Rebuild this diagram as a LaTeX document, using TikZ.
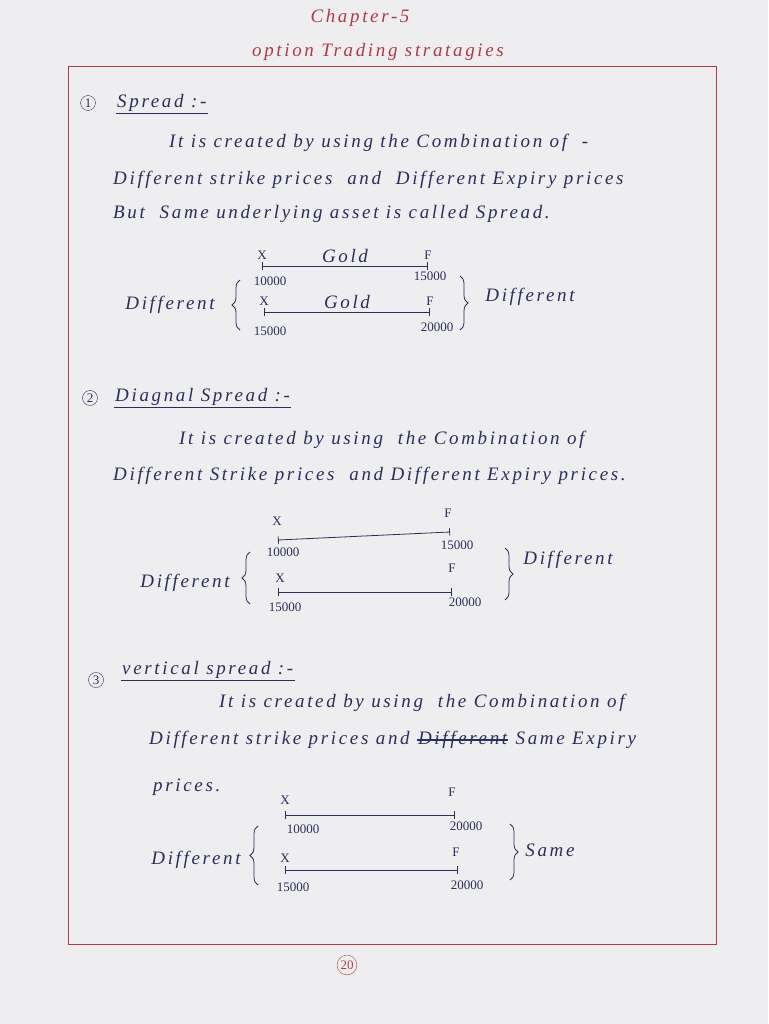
\documentclass[tikz,border=0pt]{standalone}
\usepackage{fontspec}
\setmainfont{Liberation Serif}
\newfontfamily\handfont[LetterSpace=14]{Liberation Serif}
\usetikzlibrary{positioning,decorations.pathreplacing}
\definecolor{ink}{HTML}{2B2D5C}
\definecolor{redink}{HTML}{B03A48}
\definecolor{paper}{HTML}{EEEEF0}
\begin{document}
\begin{tikzpicture}[x=1pt,y=-1pt]

	\tikzstyle{txt}=[ink, font=\handfont\fontsize{19}{22}\selectfont\itshape, inner sep=1pt]
	\tikzstyle{num}=[ink, font=\fontsize{13}{15}\selectfont, inner sep=1pt]
	\tikzstyle{head}=[ink, font=\handfont\fontsize{19}{22}\selectfont\itshape, inner sep=1pt]
	\tikzstyle{circ}=[ink, circle, draw, inner sep=1.5pt, font=\fontsize{13}{14}\selectfont]
	\tikzstyle{bar}=[ink, line width=0.8pt, |-|]
	\tikzstyle{brc}=[ink, line width=0.8pt, decorate, decoration={brace, amplitude=8pt}]

	\fill[paper] (0,0) rectangle (768,1024);
	\useasboundingbox (0,0) rectangle (768,1024);

	% TITLE
	\node[txt, redink] (chap) at (360,18) {Chapter-5};
	\node[txt, redink] (title) at (378,52) {option Trading stratagies};
	\draw[redink, line width=1pt] (68,67) rectangle (716,944);
	\node[circ, redink] (page) at (347,965) {20};

	% SECTION 1
	\node[circ] (n_1) at (88,103) {1};
	\node[head, anchor=west] (s_1) at (116,103) {Spread :-};
	\draw[ink] (s_1.south west) -- (s_1.south east);
	\node[txt, anchor=west] (t_1_1) at (168,143) {It is created by using the Combination of \ -};
	\node[txt, anchor=west] (t_1_2) at (112,180) {Different strike prices \ and \ Different Expiry prices};
	\node[txt, anchor=west] (t_1_3) at (112,214) {But \ Same underlying asset is called Spread.};

	\coordinate (a_1_1) at (262,266); \coordinate (b_1_1) at (428,266);
	\coordinate (a_1_2) at (264,312); \coordinate (b_1_2) at (430,312);
	\draw[bar] (a_1_1) -- node[txt, above=2pt] (g_1) {Gold} (b_1_1);
	\draw[bar] (a_1_2) -- node[txt, above=2pt] (g_2) {Gold} (b_1_2);
	\node[num, above=5pt of a_1_1] (x_1_1) {X};
	\node[num, above=5pt of b_1_1] (f_1_1) {F};
	\node[num, above=5pt of a_1_2] (x_1_2) {X};
	\node[num, above=5pt of b_1_2] (f_1_2) {F};
	\node[num] (p_1_1) at (270,281) {10000};
	\node[num] (p_1_2) at (430,276) {15000};
	\node[num] (p_1_3) at (270,331) {15000};
	\node[num] (p_1_4) at (437,327) {20000};
	\node[txt] (d_1_l) at (170,305) {Different};
	\node[txt] (d_1_r) at (530,297) {Different};
	\draw[brc] (240,330) -- (240,280);
	\draw[brc] (460,276) -- (460,330);

	% SECTION 2
	\node[circ] (n_2) at (90,398) {2};
	\node[head, anchor=west] (s_2) at (114,397) {Diagnal Spread :-};
	\draw[ink] (s_2.south west) -- (s_2.south east);
	\node[txt, anchor=west] (t_2_1) at (178,440) {It is created by using \ the Combination of};
	\node[txt, anchor=west] (t_2_2) at (112,476) {Different Strike prices \ and Different Expiry prices.};

	\coordinate (a_2_1) at (278,540); \coordinate (b_2_1) at (450,532);
	\coordinate (a_2_2) at (278,592); \coordinate (b_2_2) at (452,592);
	\draw[bar] (a_2_1) -- (b_2_1);
	\draw[bar] (a_2_2) -- (b_2_2);
	\node[num] (x_2_1) at (277,521) {X};
	\node[num] (f_2_1) at (448,513) {F};
	\node[num] (x_2_2) at (280,578) {X};
	\node[num] (f_2_2) at (452,568) {F};
	\node[num] (p_2_1) at (283,552) {10000};
	\node[num] (p_2_2) at (457,545) {15000};
	\node[num] (p_2_3) at (285,607) {15000};
	\node[num] (p_2_4) at (465,602) {20000};
	\node[txt] (d_2_l) at (185,583) {Different};
	\node[txt] (d_2_r) at (568,560) {Different};
	\draw[brc] (250,604) -- (250,552);
	\draw[brc] (505,548) -- (505,600);

	% SECTION 3
	\node[circ] (n_3) at (96,680) {3};
	\node[head, anchor=west] (s_3) at (121,670) {vertical spread :-};
	\draw[ink] (s_3.south west) -- (s_3.south east);
	\node[txt, anchor=west] (t_3_1) at (218,703) {It is created by using \ the Combination of};
	\node[txt, anchor=west] (t_3_2) at (148,740) {Different strike prices and};
	\node[txt, right=6pt of t_3_2] (strk) {Different};
	\draw[ink, line width=1.2pt] (strk.west) -- (strk.east);
	\node[txt, right=6pt of strk] (t_3_3) {Same Expiry};
	\node[txt, anchor=west] (t_3_4) at (152,787) {prices.};

	\coordinate (a_3_1) at (285,815); \coordinate (b_3_1) at (455,815);
	\coordinate (a_3_2) at (285,870); \coordinate (b_3_2) at (458,870);
	\draw[bar] (a_3_1) -- (b_3_1);
	\draw[bar] (a_3_2) -- (b_3_2);
	\node[num] (x_3_1) at (285,800) {X};
	\node[num] (f_3_1) at (452,792) {F};
	\node[num] (x_3_2) at (285,858) {X};
	\node[num] (f_3_2) at (456,852) {F};
	\node[num] (p_3_1) at (303,829) {10000};
	\node[num] (p_3_2) at (466,826) {20000};
	\node[num] (p_3_3) at (293,887) {15000};
	\node[num] (p_3_4) at (467,885) {20000};
	\node[txt] (d_3_l) at (196,860) {Different};
	\node[txt] (d_3_r) at (550,850) {Same};
	\draw[brc] (258,885) -- (258,826);
	\draw[brc] (510,824) -- (510,880);

\end{tikzpicture}
\end{document}
